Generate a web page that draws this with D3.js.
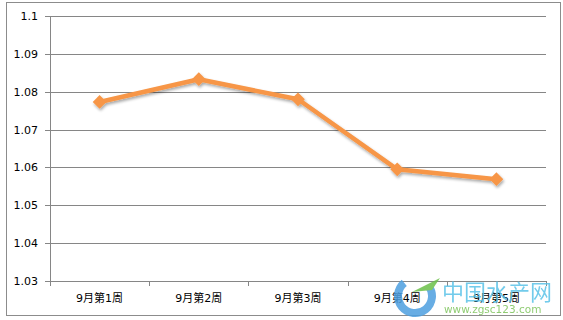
<html>
<head>
<meta charset="utf-8">
<style>
  body { margin: 0; background: #fff; }
  svg text { font-family: "DejaVu Sans", "Noto Sans CJK SC", sans-serif; }
</style>
</head>
<body>
<script src="https://d3js.org/d3.v7.min.js"></script>
<script>
  var weeks = ["9月第1周", "9月第2周", "9月第3周", "9月第4周", "9月第5周"];
  var values = [1.0773, 1.0833, 1.0780, 1.0595, 1.0569];
  var yTicks = [1.03, 1.04, 1.05, 1.06, 1.07, 1.08, 1.09, 1.1];

  var W = 563, H = 320;
  var plotL = 50, plotR = 546, plotT = 16, plotB = 281;

  var svg = d3.select("body").append("svg")
    .attr("width", W).attr("height", H);

  // outer frame
  svg.append("rect")
    .attr("x", 6.5).attr("y", 2.5)
    .attr("width", 554).attr("height", 313)
    .attr("fill", "#fff").attr("stroke", "#8c8c8c");

  var x = d3.scaleBand().domain(weeks).range([plotL, plotR]);
  var y = d3.scaleLinear().domain([1.03, 1.1]).range([plotB, plotT]);

  // gridlines
  svg.append("g").selectAll("line")
    .data(yTicks).enter().append("line")
    .attr("x1", plotL - 5).attr("x2", plotR)
    .attr("y1", function (d) { return Math.round(y(d)) + 0.5; })
    .attr("y2", function (d) { return Math.round(y(d)) + 0.5; })
    .attr("stroke", "#868686");

  // y labels
  svg.append("g").selectAll("text")
    .data(yTicks).enter().append("text")
    .attr("x", 38).attr("y", function (d) { return y(d) + 4; })
    .attr("text-anchor", "end")
    .attr("font-size", 11).attr("fill", "#000")
    .text(function (d) { return String(+d.toFixed(2)); });

  // y axis line
  svg.append("line")
    .attr("x1", plotL + 0.5).attr("x2", plotL + 0.5)
    .attr("y1", plotT).attr("y2", plotB + 5)
    .attr("stroke", "#868686");

  // x axis ticks
  var xt = weeks.map(function (w) { return x(w); }).concat([plotR]);
  svg.append("g").selectAll("line")
    .data(xt).enter().append("line")
    .attr("x1", function (d) { return Math.round(d) + 0.5; })
    .attr("x2", function (d) { return Math.round(d) + 0.5; })
    .attr("y1", plotB).attr("y2", plotB + 5)
    .attr("stroke", "#868686");

  svg.append("g").selectAll("text")
    .data(weeks).enter().append("text")
    .attr("x", function (d) { return x(d) + x.bandwidth() / 2; })
    .attr("y", 302)
    .attr("text-anchor", "middle")
    .attr("font-size", 11).attr("fill", "#000")
    .text(function (d) { return d; });

  // shadow filter
  var defs = svg.append("defs");
  var f = defs.append("filter").attr("id", "sh")
    .attr("x", "-20%").attr("y", "-20%").attr("width", "140%").attr("height", "140%");
  f.append("feGaussianBlur").attr("in", "SourceAlpha").attr("stdDeviation", 1.5);
  f.append("feOffset").attr("dx", 1).attr("dy", 2).attr("result", "b");
  f.append("feComponentTransfer").append("feFuncA").attr("type", "linear").attr("slope", 0.35);
  var m = f.append("feMerge");
  m.append("feMergeNode");
  m.append("feMergeNode").attr("in", "SourceGraphic");

  var line = d3.line()
    .x(function (d, i) { return x(weeks[i]) + x.bandwidth() / 2; })
    .y(function (d) { return y(d); });

  var g = svg.append("g").attr("filter", "url(#sh)");
  g.append("path")
    .datum(values)
    .attr("d", line)
    .attr("fill", "none")
    .attr("stroke", "#f79646")
    .attr("stroke-width", 4.5)
    .attr("stroke-linejoin", "round");

  g.selectAll("path.pt")
    .data(values).enter().append("path")
    .attr("class", "pt")
    .attr("d", d3.symbol().type(d3.symbolDiamond2).size(120))
    .attr("transform", function (d, i) {
      return "translate(" + (x(weeks[i]) + x.bandwidth() / 2) + "," + y(d) + ")";
    })
    .attr("fill", "#f79646");

  // watermark
  var wm = svg.append("g").attr("opacity", 0.85);
  wm.append("path")
    .attr("d", d3.arc().innerRadius(13).outerRadius(21).startAngle(0.9).endAngle(5.6)())
    .attr("transform", "translate(415,296)")
    .attr("fill", "#4d9fe0");
  wm.append("path")
    .attr("d", "M412,292 L440,278 L432,290 Z")
    .attr("fill", "#6cc04a");
  wm.append("text")
    .attr("x", 442).attr("y", 300)
    .attr("font-size", 22).attr("fill", "#5bc3e8")
    .attr("font-family", "Noto Sans CJK SC")
    .text("中国水产网");
  wm.append("text")
    .attr("x", 444).attr("y", 313)
    .attr("font-size", 10.5).attr("fill", "#7cc35a")
    .text("www.zgsc123.com");
</script>
</body>
</html>
